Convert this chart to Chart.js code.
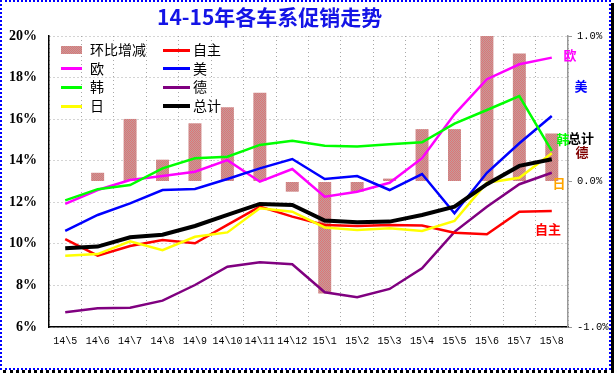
<!DOCTYPE html>
<html>
<head>
<meta charset="utf-8">
<script src="https://cdn.jsdelivr.net/npm/chart.js@4/dist/chart.umd.min.js"></script>
<style>
  body { margin: 0; background: #fff; }
  #wrap { position: relative; width: 614px; height: 373px; overflow: hidden; }
  #frame { position: absolute; left: 0; top: 0; width: 611px; height: 370px; box-sizing: border-box; border: 2px dotted #0000ff; pointer-events: none; }
  #shadowR { position: absolute; left: 611px; top: 3px; width: 3px; height: 370px; background: #000; }
  #shadowB { position: absolute; left: 3px; top: 370px; width: 611px; height: 0; border-top: 3px dotted #000; }
  #title { position: absolute; left: 157px; top: 6px; font: bold 21px "Noto Sans CJK SC", sans-serif; line-height: 1; color: #1414e6; white-space: nowrap; }
  .lg { position: absolute; font: 14px "Noto Sans CJK SC", sans-serif; line-height: 1; color: #000; white-space: nowrap; }
  .sw { position: absolute; }
  .rl { position: absolute; font: bold 13px "Noto Sans CJK SC", sans-serif; line-height: 1; white-space: nowrap; transform: translate(-50%, -50%); }
</style>
</head>
<body>
<div id="wrap">
  <canvas id="chart" width="614" height="373"></canvas>
  <div id="title">14-15年各车系促销走势</div>
  <div id="legend"></div>
  <div id="rightLabels"></div>
  <div id="frame"></div>
  <div id="shadowR"></div>
  <div id="shadowB"></div>
</div>
<script>
const months = ['14\\5', '14\\6', '14\\7', '14\\8', '14\\9', '14\\10', '14\\11', '14\\12',
                '15\\1', '15\\2', '15\\3', '15\\4', '15\\5', '15\\6', '15\\7', '15\\8'];

// 环比增减 (right axis, %)
const momChange = [0, 0.06, 0.43, 0.15, 0.40, 0.51, 0.61, -0.07,
                   -0.77, -0.07, 0.02, 0.36, 0.36, 1.02, 0.88, 0.33];

// promotion share by brand origin (left axis, %)
const zizhu = [10.23, 9.43, 9.90, 10.19, 10.03, 10.91, 11.79, 11.31,
               10.91, 10.86, 10.91, 10.88, 10.54, 10.46, 11.55, 11.58];
const ou    = [11.92, 12.59, 13.07, 13.26, 13.47, 14.03, 12.99, 13.60,
               12.27, 12.51, 12.94, 14.12, 16.23, 17.92, 18.64, 18.96];
const mei   = [10.63, 11.39, 11.95, 12.59, 12.64, 13.12, 13.63, 14.08,
               13.12, 13.26, 12.59, 13.36, 11.47, 13.42, 14.84, 16.15];
const han   = [12.09, 12.63, 12.83, 13.63, 14.12, 14.19, 14.76, 14.96,
               14.72, 14.68, 14.79, 14.89, 15.78, 16.44, 17.11, 14.47];
const de    = [6.71, 6.90, 6.93, 7.27, 8.02, 8.90, 9.11, 9.02,
               7.67, 7.43, 7.83, 8.82, 10.58, 11.79, 12.87, 13.42];
const ri    = [9.43, 9.51, 10.12, 9.70, 10.34, 10.55, 11.71, 11.55,
               10.79, 10.67, 10.75, 10.62, 11.10, 12.94, 13.18, 14.36];
const total = [9.79, 9.87, 10.32, 10.44, 10.86, 11.39, 11.92, 11.87,
               11.12, 11.04, 11.07, 11.39, 11.79, 12.87, 13.75, 14.07];

const leftTicks = [6, 8, 10, 12, 14, 16, 18, 20];
const rightTicks = [-1, 0, 1];

// dotted rosy fill like the original bars
const pc = document.createElement('canvas');
pc.width = 2; pc.height = 2;
const pctx = pc.getContext('2d');
pctx.fillStyle = '#c29c9c'; pctx.fillRect(0, 0, 2, 2);
pctx.fillStyle = '#de7474'; pctx.fillRect(0, 0, 1, 1); pctx.fillRect(1, 1, 1, 1);
const barFill = document.getElementById('chart').getContext('2d').createPattern(pc, 'repeat');

function line(label, data, color, width, order) {
  return {
    type: 'line', label: label, data: data, yAxisID: 'y',
    borderColor: color, backgroundColor: color, borderWidth: width,
    pointRadius: 0, tension: 0, fill: false, order: order
  };
}

const ctx = document.getElementById('chart').getContext('2d');
const chart = new Chart(ctx, {
  data: {
    labels: months,
    datasets: [
      { type: 'bar', label: '环比增减', data: momChange, yAxisID: 'y1',
        backgroundColor: barFill, borderWidth: 0,
        barPercentage: 0.4, categoryPercentage: 1, order: 10 },
      line('自主', zizhu, '#ff0000', 2.5, 7),
      line('欧', ou, '#ff00ff', 2.5, 6),
      line('美', mei, '#0000ff', 2.5, 5),
      line('韩', han, '#00ff00', 2.5, 4),
      line('德', de, '#800080', 2.5, 8),
      line('日', ri, '#ffff00', 2.5, 3),
      line('总计', total, '#000000', 4, 1)
    ]
  },
  options: {
    responsive: false,
    animation: false,
    devicePixelRatio: 1,
    layout: { padding: { top: 36, left: 0, right: 0, bottom: 0 } },
    plugins: { legend: { display: false }, title: { display: false }, tooltip: { enabled: false } },
    scales: {
      x: {
        offset: true,
        grid: { offset: true, color: '#a8a8a8', drawTicks: false },
        border: { color: '#000', width: 1.5, dash: [1, 3] },
        ticks: { color: '#000', padding: 8, maxRotation: 0, autoSkip: false,
                 font: { family: 'Liberation Mono', size: 10 } },
        afterFit: s => { s.height = 46; }
      },
      y: {
        position: 'left', min: 6, max: 20,
        afterBuildTicks: s => { s.ticks = leftTicks.map(v => ({ value: v })); },
        grid: { color: '#a8a8a8', drawTicks: false },
        border: { color: '#000', width: 1.5, dash: [1, 3] },
        ticks: { color: '#000', padding: 12, callback: v => v + '%',
                 font: { family: 'Liberation Serif', size: 14, weight: 'bold' } },
        afterFit: s => { s.width = 49; }
      },
      y1: {
        position: 'right', min: -1, max: 1,
        afterBuildTicks: s => { s.ticks = rightTicks.map(v => ({ value: v })); },
        grid: { drawOnChartArea: false, color: '#999', tickLength: 4 },
        border: { color: '#999', width: 1.5 },
        ticks: { color: '#000', padding: 5, callback: v => Number(v).toFixed(1) + '%',
                 font: { family: 'Liberation Mono', size: 10.5 } },
        afterFit: s => { s.width = 46; }
      }
    }
  }
});

// legend, two columns like the original
const legendRows = [50, 68.7, 87.3, 106];
const legendEl = document.getElementById('legend');
chart.data.datasets.forEach((ds, i) => {
  const col = i % 2, row = Math.floor(i / 2);
  const y = legendRows[row];
  const sx = col === 0 ? 61 : 163;
  const tx = col === 0 ? 90 : 193;
  const sw = document.createElement('div');
  sw.className = 'sw';
  if (ds.type === 'bar') {
    sw.style.cssText = `left:${sx}px;top:${y - 4}px;width:21px;height:8px;`;
    sw.style.background = 'repeating-conic-gradient(#de7474 0 25%, #c29c9c 0 50%) 0 0/2px 2px';
  } else {
    const w = ds.borderWidth >= 4 ? 4 : 3;
    sw.style.cssText = `left:${sx}px;top:${y - w / 2}px;width:${col === 0 ? 21 : 27}px;height:${w}px;background:${ds.borderColor};`;
  }
  legendEl.appendChild(sw);
  const t = document.createElement('div');
  t.className = 'lg';
  t.style.left = tx + 'px';
  t.style.top = (y - 8) + 'px';
  t.textContent = ds.label;
  legendEl.appendChild(t);
});

// series names at the right end of the lines
const endLabels = [
  ['欧', '#ff00ff', 570, 54],
  ['美', '#0000ff', 581, 85],
  ['韩', '#00ff00', 563, 138],
  ['总计', '#000000', 581, 137],
  ['德', '#800000', 582, 151],
  ['日', '#ffa500', 559, 182],
  ['自主', '#ff0000', 548, 228]
];
const rlEl = document.getElementById('rightLabels');
endLabels.forEach(([txt, color, x, y]) => {
  const d = document.createElement('div');
  d.className = 'rl';
  d.style.left = x + 'px';
  d.style.top = y + 'px';
  d.style.color = color;
  d.textContent = txt;
  rlEl.appendChild(d);
});
</script>
</body>
</html>
